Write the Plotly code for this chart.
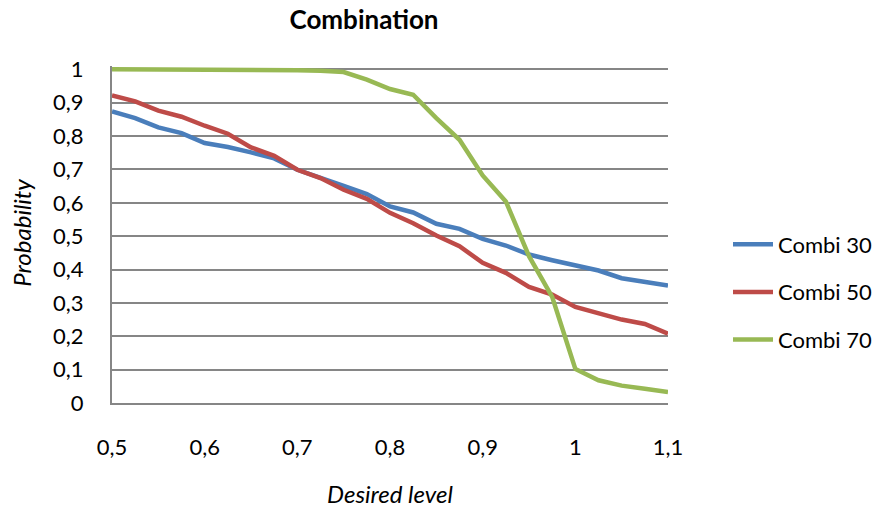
import plotly.graph_objects as go

x_vals = [0.5, 0.525, 0.55, 0.575, 0.6, 0.625, 0.65, 0.675, 0.7, 0.725, 0.75, 0.775,
          0.8, 0.825, 0.85, 0.875, 0.9, 0.925, 0.95, 0.975, 1.0, 1.025, 1.05, 1.075, 1.1]
combi30 = [0.874, 0.854, 0.826, 0.809, 0.779, 0.767, 0.751, 0.733, 0.699, 0.676, 0.651, 0.626,
           0.589, 0.571, 0.537, 0.522, 0.492, 0.472, 0.445, 0.428, 0.412, 0.397, 0.374, 0.363, 0.352]
combi50 = [0.922, 0.904, 0.876, 0.858, 0.831, 0.807, 0.766, 0.741, 0.699, 0.674, 0.639, 0.612,
           0.570, 0.539, 0.502, 0.470, 0.420, 0.390, 0.348, 0.325, 0.288, 0.268, 0.250, 0.237, 0.208]
combi70 = [1.0, 1.0, 1.0, 1.0, 1.0, 1.0, 1.0, 1.0, 0.997, 0.996, 0.992, 0.969,
           0.941, 0.924, 0.854, 0.789, 0.682, 0.604, 0.440, 0.318, 0.102, 0.068, 0.052, 0.043, 0.033]
x_ticks = [0.5, 0.6, 0.7, 0.8, 0.9, 1.0, 1.1]
x_labels = ["0,5", "0,6", "0,7", "0,8", "0,9", "1", "1,1"]
y_ticks = [0, 0.1, 0.2, 0.3, 0.4, 0.5, 0.6, 0.7, 0.8, 0.9, 1.0]
y_labels = ["0", "0,1", "0,2", "0,3", "0,4", "0,5", "0,6", "0,7", "0,8", "0,9", "1"]

series = [("Combi 30", combi30, "#4a7ebb"),
          ("Combi 50", combi50, "#be4b48"),
          ("Combi 70", combi70, "#98b954")]

FONT = "Lato"
W, H = 883, 511
PL, PR, PT, PB = 112, 668, 66, 403.5
fig = go.Figure()
for i, (name, vals, col) in enumerate(series):
    fig.add_trace(go.Scatter(x=x_vals, y=vals, mode="lines", name=name,
                             legendgroup=f"g{i}",
                             line=dict(color=col, width=4.5)))

fig.update_layout(
    width=W, height=H,
    margin=dict(l=PL, r=W - PR, t=PT, b=H - PB, autoexpand=False),
    paper_bgcolor="white", plot_bgcolor="white",
    font=dict(family=FONT, size=22, color="#000000"),
    title=dict(text="<b>Combination</b>", x=364 / W, xanchor="center",
               y=1 - 20 / H, yanchor="middle", font=dict(size=26, family=FONT)),
    legend=dict(xref="container", x=728 / W, xanchor="left",
                yref="container", y=1 - 292 / H, yanchor="middle",
                font=dict(size=22, family=FONT), tracegroupgap=16,
                traceorder="grouped", itemwidth=40, bgcolor="rgba(0,0,0,0)"),
    xaxis=dict(range=[0.5, 1.1], tickvals=x_ticks, ticktext=x_labels,
               showgrid=False, zeroline=False, showline=True,
               linecolor="#868686", linewidth=2, ticks="", ticklabelstandoff=24),
    yaxis=dict(range=[0, 1.01], tickvals=y_ticks, ticktext=y_labels,
               showgrid=True, gridcolor="#868686", gridwidth=1.5, zeroline=False,
               showline=True, linecolor="#868686", linewidth=2, ticks="",
               ticklabelstandoff=22),
    annotations=[
        dict(text="<i>Desired level</i>", xref="paper", yref="paper",
             x=(390 - PL) / (PR - PL), y=(PB - 494) / (PB - PT),
             showarrow=False, font=dict(size=24), xanchor="center", yanchor="middle"),
        dict(text="<i>Probability</i>", xref="paper", yref="paper",
             x=(22 - PL) / (PR - PL), y=(PB - 233) / (PB - PT), textangle=-90,
             showarrow=False, font=dict(size=24), xanchor="center", yanchor="middle"),
    ],
)

fig.write_html("out.html")
